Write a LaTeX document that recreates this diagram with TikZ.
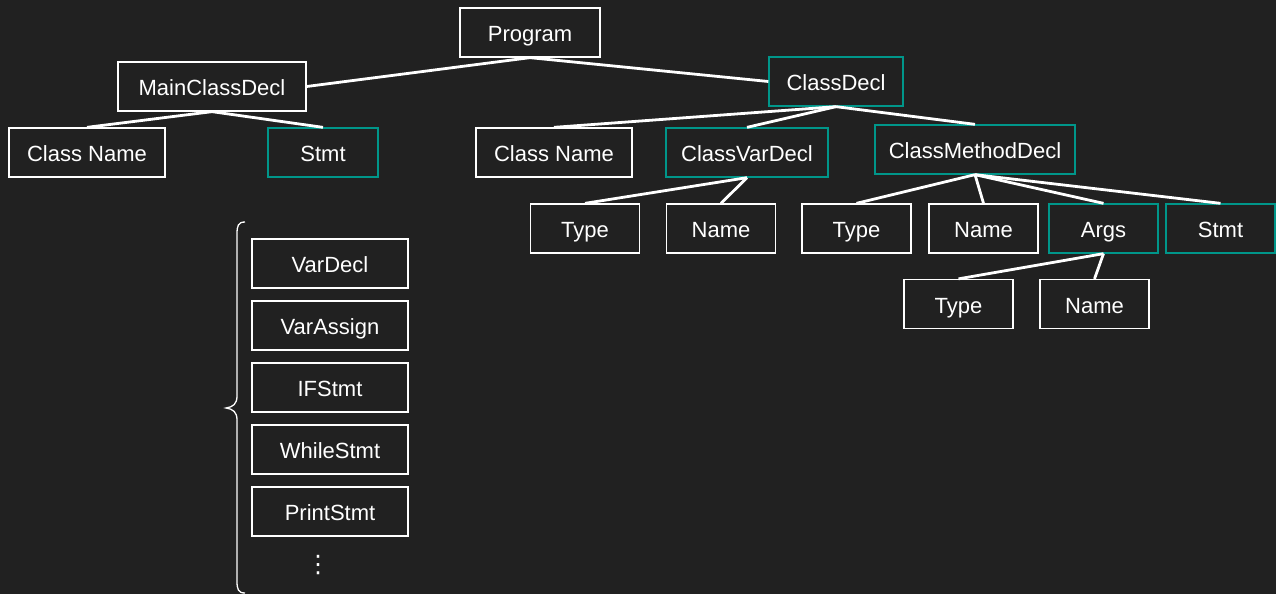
\documentclass[tikz,border=0pt]{standalone}
\usepackage{fontspec}
\setmainfont{Liberation Sans}
\newfontfamily\dotsfont{DejaVu Sans}
\definecolor{bgdark}{HTML}{212121}
\definecolor{tealline}{HTML}{00968A}

\begin{document}
\begin{tikzpicture}[x=1pt,y=-1pt,
        box/.style={draw=white, line width=1.3pt, text=white, minimum height=49pt, inner sep=0pt,
            text height=20pt, text depth=2pt, font=\fontsize{22}{24}\selectfont},
        sub/.style={box, draw=tealline},
        edge/.style={white, line width=2.8pt}]
        \fill[bgdark] (0,0) rectangle (1276,594);
        \useasboundingbox (0,0) rectangle (1276,594);
        % top levels
        \node[box, minimum width=140pt] (prog) at (530,32.5) {Program};
        \node[box, minimum width=188pt] (main) at (212,86.5) {MainClassDecl};
        \node[sub, minimum width=134pt] (cls) at (836,81.5) {ClassDecl};
        \node[box, minimum width=156pt] (mname) at (87,152.5) {Class Name};
        \node[sub, minimum width=110pt] (mstmt) at (323,152.5) {Stmt};
        \node[box, minimum width=156pt] (cname) at (554,152.5) {Class Name};
        \node[sub, minimum width=162pt] (cvar) at (747,152.5) {ClassVarDecl};
        \node[sub, minimum width=200pt] (cmeth) at (975,149.5) {ClassMethodDecl};
        % leaves
        \node[box, minimum width=109pt] (vtype) at (585,228.5) {Type};
        \node[box, minimum width=109pt] (vname) at (721,228.5) {Name};
        \node[box, minimum width=109pt] (ftype) at (856.5,228.5) {Type};
        \node[box, minimum width=109pt] (fname) at (983.5,228.5) {Name};
        \node[sub, minimum width=109pt] (fargs) at (1103.5,228.5) {Args};
        \node[sub, minimum width=109pt] (fstmt) at (1220.5,228.5) {Stmt};
        \node[box, minimum width=109pt] (atype) at (958.5,304) {Type};
        \node[box, minimum width=109pt] (aname) at (1094.5,304) {Name};
        % statement kinds
        \node[box, minimum width=156pt] (sdecl) at (330,263.5) {VarDecl};
        \node[box, minimum width=156pt] (sassign) at (330,325.5) {VarAssign};
        \node[box, minimum width=156pt] (sif) at (330,387.5) {IFStmt};
        \node[box, minimum width=156pt] (swhile) at (330,449.5) {WhileStmt};
        \node[box, minimum width=156pt] (sprint) at (330,511.5) {PrintStmt};
        \node[text=white, inner sep=0pt, font=\dotsfont\fontsize{24}{24}\selectfont] (sdots) at (318,565) {⋮};
        \draw[white, line width=1.3pt] (245,222) .. controls (238,222) and (237,226) .. (237,234) -- (237,396)
            .. controls (237,404) and (233,407) .. (226,408) .. controls (233,409) and (237,412) .. (237,420)
            -- (237,581) .. controls (237,589) and (238,593) .. (245,593);
        % edges
        \draw[edge] (prog.south) -- (main.east);
        \draw[edge] (prog.south) -- (cls.west);
        \draw[edge] (main.south) -- (mname.north);
        \draw[edge] (main.south) -- (mstmt.north);
        \draw[edge] (cls.south) -- (cname.north);
        \draw[edge] (cls.south) -- (cvar.north);
        \draw[edge] (cls.south) -- (cmeth.north);
        \draw[edge] (cvar.south) -- (vtype.north);
        \draw[edge] (cvar.south) -- (vname.north);
        \draw[edge] (cmeth.south) -- (ftype.north);
        \draw[edge] (cmeth.south) -- (fname.north);
        \draw[edge] (cmeth.south) -- (fargs.north);
        \draw[edge] (cmeth.south) -- (fstmt.north);
        \draw[edge] (fargs.south) -- (atype.north);
        \draw[edge] (fargs.south) -- (aname.north);
    \end{tikzpicture}
\end{document}
